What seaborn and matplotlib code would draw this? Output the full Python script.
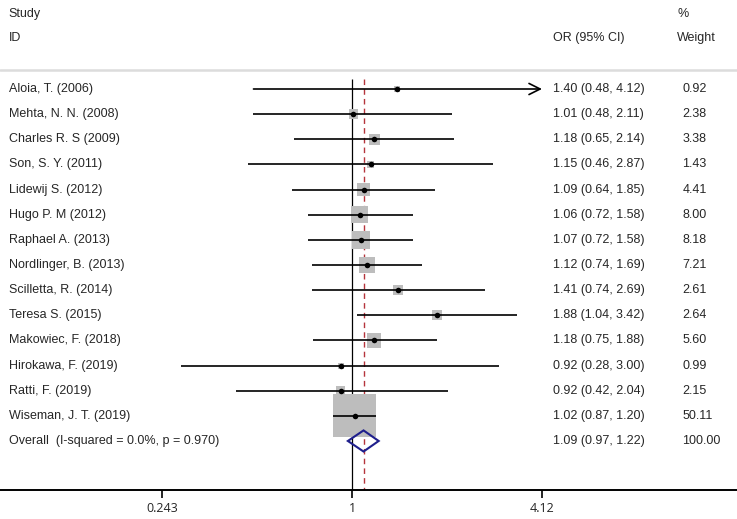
import numpy as np
import pandas as pd
import matplotlib
matplotlib.use("Agg")
import matplotlib.pyplot as plt
import matplotlib.transforms as mtransforms
from matplotlib.patches import Polygon
import seaborn as sns

# данные
studies = ["Aloia, T. (2006)", "Mehta, N. N. (2008)", "Charles R. S (2009)", "Son, S. Y. (2011)",
           "Lidewij S. (2012)", "Hugo P. M (2012)", "Raphael A. (2013)", "Nordlinger, B. (2013)",
           "Scilletta, R. (2014)", "Teresa S. (2015)", "Makowiec, F. (2018)", "Hirokawa, F. (2019)",
           "Ratti, F. (2019)", "Wiseman, J. T. (2019)"]
odds = [1.40, 1.01, 1.18, 1.15, 1.09, 1.06, 1.07, 1.12, 1.41, 1.88, 1.18, 0.92, 0.92, 1.02]
ci_low = [0.48, 0.48, 0.65, 0.46, 0.64, 0.72, 0.72, 0.74, 0.74, 1.04, 0.75, 0.28, 0.42, 0.87]
ci_high = [4.12, 2.11, 2.14, 2.87, 1.85, 1.58, 1.58, 1.69, 2.69, 3.42, 1.88, 3.00, 2.04, 1.20]
weights = [0.92, 2.38, 3.38, 1.43, 4.41, 8.00, 8.18, 7.21, 2.61, 2.64, 5.60, 0.99, 2.15, 50.11]

overall_label = "Overall  (I-squared = 0.0%, p = 0.970)"
overall_or, overall_lo, overall_hi = 1.09, 0.97, 1.22
tick_vals = [0.243, 1, 4.12]
tick_labels = ["0.243", "1", "4.12"]

df = pd.DataFrame({"study": studies, "or": odds, "lo": ci_low, "hi": ci_high, "w": weights})
df["row"] = np.arange(len(df))
n = len(df)

sns.set_style("white")
plt.rcParams["font.family"] = ["Liberation Sans", "DejaVu Sans"]

fig = plt.figure(figsize=(7.37, 5.19), dpi=100)
ax = fig.add_axes([0, 1 - 490 / 519, 1, 490 / 519])
ax.set_xscale("log")
ax.set_xlim(0.0726, 17.62)
ax.set_ylim(15.95, -3.54)

# вертикальные линии: 1 и общий эффект
ax.vlines(1, -0.40, 15.95, color="black", lw=0.9, zorder=1)
ax.vlines(overall_or, -0.40, 15.95, color="#b5343c", lw=1.0, ls=(0, (4, 3)), zorder=2.5)

# квадраты по весу
sns.scatterplot(data=df, x="or", y="row", size="w", sizes=(0, 958), size_norm=(0, 50.11),
                marker="s", color="#bdbdbd", linewidth=0, legend=False, ax=ax, zorder=3)

# доверительные интервалы
arrow = df["hi"] >= max(tick_vals)
ax.hlines(df.loc[~arrow, "row"], df.loc[~arrow, "lo"], df.loc[~arrow, "hi"], color="black", lw=1.2, zorder=4)
for _, r in df[arrow].iterrows():
    ax.annotate("", xy=(r["hi"], r["row"]), xytext=(r["lo"], r["row"]),
                arrowprops=dict(arrowstyle="->,head_length=0.8,head_width=0.4", color="black", lw=1.2,
                                shrinkA=0, shrinkB=0), zorder=4)

sns.scatterplot(data=df, x="or", y="row", color="black", s=16, linewidth=0, legend=False, ax=ax, zorder=5)

# ромб общего эффекта
yo = n
h = 0.42
diamond = Polygon([(overall_lo, yo), (overall_or, yo - h), (overall_hi, yo), (overall_or, yo + h)],
                  closed=True, facecolor="none", edgecolor="#1f1f8c", lw=1.5, zorder=4.5)
ax.add_patch(diamond)

# текст
trans = mtransforms.blended_transform_factory(ax.transAxes, ax.transData)
fs = 9
ax.text(0.012, -2.98, "Study", transform=trans, va="center", fontsize=fs)
ax.text(0.012, -2.03, "ID", transform=trans, va="center", fontsize=fs)
ax.text(0.750, -2.03, "OR (95% CI)", transform=trans, va="center", fontsize=fs)
ax.text(0.919, -2.98, "%", transform=trans, va="center", fontsize=fs)
ax.text(0.919, -2.03, "Weight", transform=trans, va="center", fontsize=fs)
ax.plot([0, 1], [-0.756, -0.756], transform=trans, color="#dcdcdc", lw=1.8, clip_on=False)

for _, r in df.iterrows():
    ax.text(0.012, r["row"], r["study"], transform=trans, va="center", fontsize=fs)
    ax.text(0.750, r["row"], f"{r['or']:.2f} ({r['lo']:.2f}, {r['hi']:.2f})", transform=trans,
            va="center", fontsize=fs)
    ax.text(0.926, r["row"], f"{r['w']:.2f}", transform=trans, va="center", fontsize=fs)

ax.text(0.012, yo, overall_label, transform=trans, va="center", fontsize=fs)
ax.text(0.750, yo, f"{overall_or:.2f} ({overall_lo:.2f}, {overall_hi:.2f})", transform=trans,
        va="center", fontsize=fs)
ax.text(0.926, yo, "100.00", transform=trans, va="center", fontsize=fs)

# оси
for s in ["top", "left", "right"]:
    ax.spines[s].set_visible(False)
ax.spines["bottom"].set_linewidth(1.4)
ax.spines["bottom"].set_color("black")
ax.set_yticks([])
ax.set_xticks(tick_vals)
ax.set_xticklabels(tick_labels, fontfamily="Open Sans", fontsize=9)
ax.xaxis.set_minor_locator(matplotlib.ticker.NullLocator())
ax.tick_params(axis="x", direction="out", length=6, width=1.2, color="black", pad=3, bottom=True)
ax.set_xlabel("")
ax.set_ylabel("")

fig.savefig("out.png", dpi=100)
